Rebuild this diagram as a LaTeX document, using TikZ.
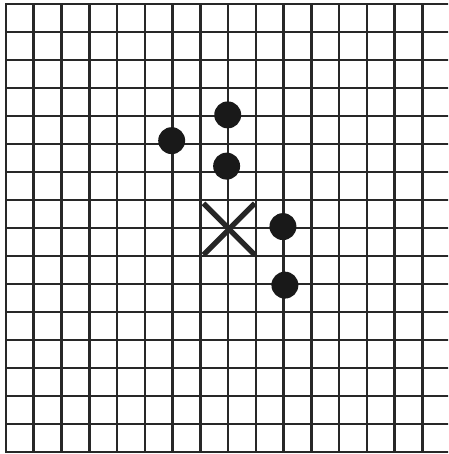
\documentclass[tikz,border=0pt]{standalone}
\usepackage{tikz}
\usetikzlibrary{calc}
\definecolor{GridGray}{RGB}{40,40,40}

\begin{document}
\begin{tikzpicture}[x=0.7cm, y=-0.7063cm,
		gridline/.style={line width=1.8pt, GridGray, line cap=rect},
		stone/.style={fill=black!90},
		cross/.style={line width=3.8pt, black!85}]
		\clip (-0.2162,-0.1429) rectangle ++(16.144,16.214);
		% board
		\foreach \i in {0,...,15} {
			\draw[gridline] (\i,0) -- (\i,16);
		}
		\foreach \i in {0,...,16} {
			\draw[gridline] (0,\i) -- (16.5,\i);
		}
		
		\coordinate (P1) at (7.99,3.96);
		\coordinate (P2) at (5.97,4.88);
		\coordinate (P3) at (7.95,5.79);
		\coordinate (P4) at (9.98,7.95);
		\coordinate (P5) at (10.05,10.04);
		\coordinate (X) at (8.04,8.04);
		
		\fill[stone] (P1) circle (0.34cm);
		\fill[stone] (P2) circle (0.34cm);
		\fill[stone] (P3) circle (0.34cm);
		\fill[stone] (P4) circle (0.34cm);
		\fill[stone] (P5) circle (0.34cm);
		
		% the cross
		\draw[cross] ($(X)+(-0.92,-0.92)$) -- ($(X)+(0.92,0.92)$);
		\draw[cross] ($(X)+(-0.92,0.92)$) -- ($(X)+(0.92,-0.92)$);
	\end{tikzpicture}
\end{document}
